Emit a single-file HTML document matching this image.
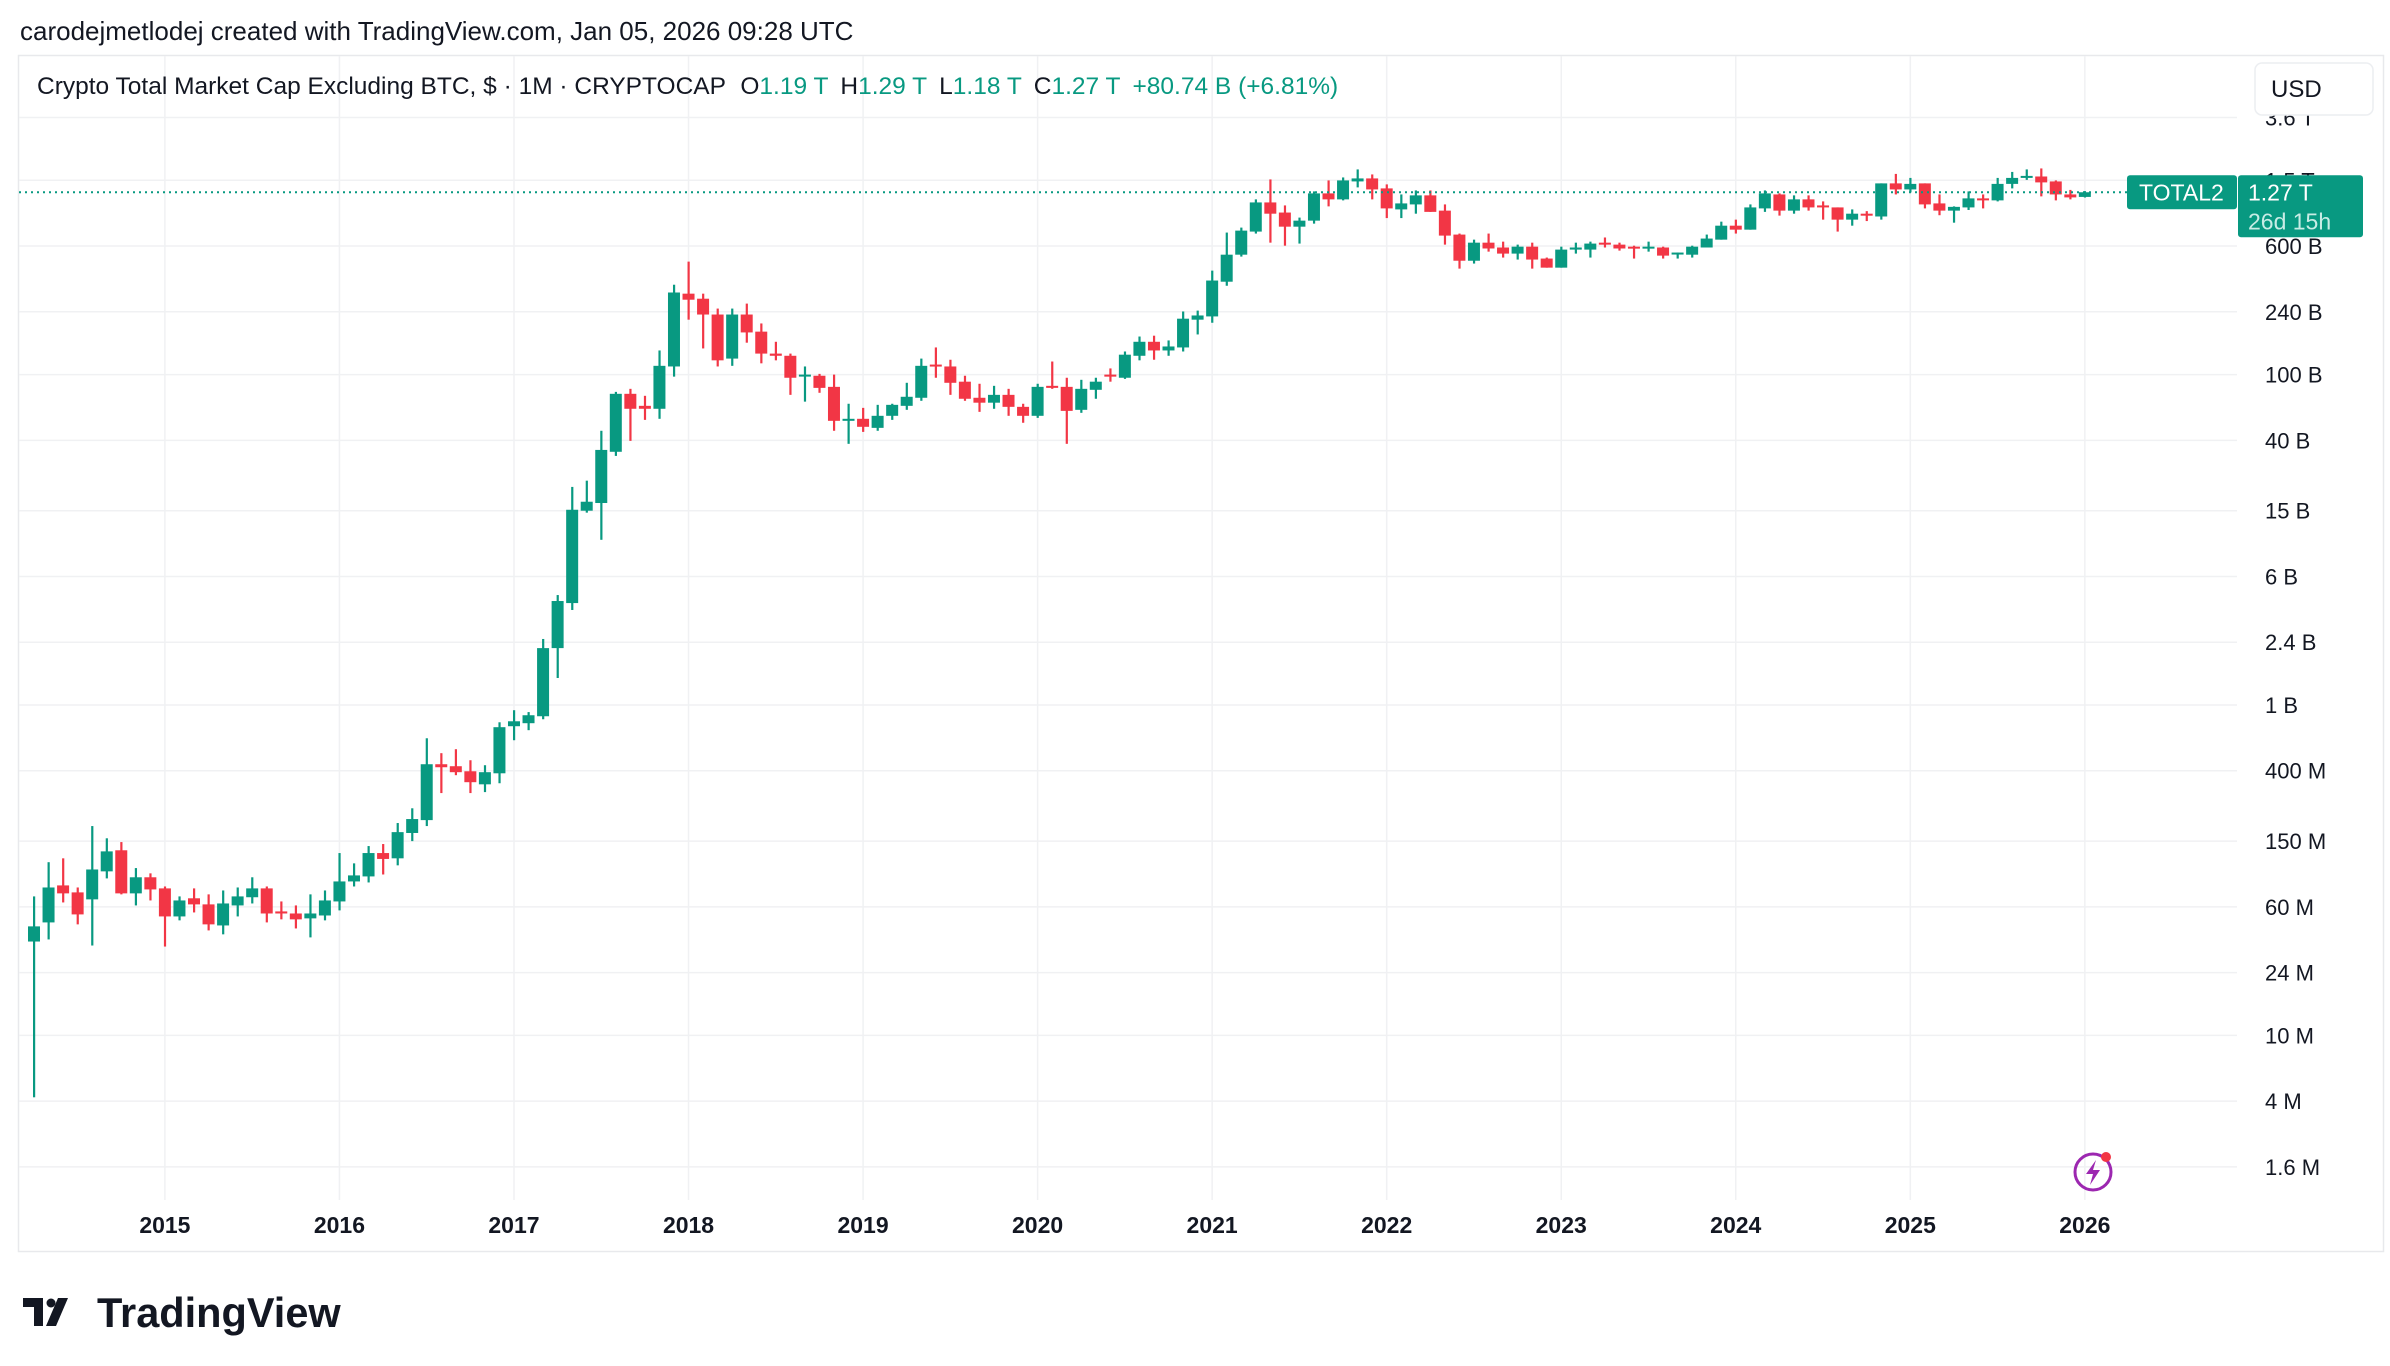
<!DOCTYPE html>
<html><head><meta charset="utf-8"><style>
html,body{margin:0;padding:0;background:#fff;}
svg{display:block;font-family:"Liberation Sans",sans-serif;}
</style></head><body>
<svg id="chart" width="2390" height="1366" viewBox="0 0 2390 1366" xmlns="http://www.w3.org/2000/svg">
<rect x="0" y="0" width="2390" height="1366" fill="#fff"/>
<text x="20" y="40" font-size="26" fill="#131722">carodejmetlodej created with TradingView.com, Jan 05, 2026 09:28 UTC</text>
<rect x="18.5" y="55.5" width="2365" height="1196" fill="#fff" stroke="#e8e9ec" stroke-width="1.5"/>
<g id="grid"></g>
<g id="candles"></g>
<g id="ylabels"></g>
<g id="xlabels"></g>
<text x="37" y="94" font-size="24.5" fill="#131722">Crypto Total Market Cap Excluding BTC, $ · 1M · CRYPTOCAP <tspan dx="8">O</tspan><tspan fill="#089981">1.19 T</tspan><tspan dx="12">H</tspan><tspan fill="#089981">1.29 T</tspan><tspan dx="12">L</tspan><tspan fill="#089981">1.18 T</tspan><tspan dx="12">C</tspan><tspan fill="#089981">1.27 T</tspan><tspan dx="12" fill="#089981">+80.74 B (+6.81%)</tspan></text>
<g>
<rect x="2255" y="63" width="118" height="52" rx="7" fill="#fff" stroke="#eceef1" stroke-width="1.5"/>
<text x="2271" y="97" font-size="24" fill="#131722">USD</text>
</g>
<g id="lastprice"></g>
<g>
<circle cx="2093" cy="1172" r="18" fill="none" stroke="#9c27b0" stroke-width="3"/>
<path d="M2096 1160 L2086 1174 L2093 1174 L2090 1185 L2100 1170 L2093 1170 Z" fill="#9c27b0"/>
<circle cx="2106" cy="1157" r="5" fill="#f23645"/>
</g>
<g>
<path d="M23 1298 h20 v28 h-9 v-19 h-11 z" fill="#131722"/>
<circle cx="51" cy="1303" r="4.5" fill="#131722"/>
<path d="M58 1298 h10 l-12 28 h-10 z" fill="#131722"/>
<text x="97" y="1327" font-size="41.5" font-weight="bold" fill="#131722">TradingView</text>
</g>
</svg>
<script>
const yearLabels = ["2015","2016","2017","2018","2019","2020","2021","2022","2023","2024","2025","2026"];
const tickValues = [0.0016,0.004,0.01,0.024,0.06,0.15,0.4,1,2.4,6,15,40,100,240,600,1500,3600];
const tickLabels = ["1.6 M","4 M","10 M","24 M","60 M","150 M","400 M","1 B","2.4 B","6 B","15 B","40 B","100 B","240 B","600 B","1.5 T","3.6 T"];
// monthly candles from Apr 2014, values in USD billions
const opens = [0.0370,0.0483,0.0809,0.0734,0.0666,0.0984,0.132,0.0724,0.0906,0.0776,
0.0525,0.0676,0.0621,0.0463,0.0612,0.0686,0.0776,0.0563,0.0547,0.0511,
0.0532,0.0647,0.0855,0.0917,0.127,0.118,0.168,0.201,0.438,0.426,
0.397,0.331,0.386,0.744,0.776,0.855,2.21,4.14,15.0,16.7,
34.1,76.5,64.7,62.1,112,309,288,231,125,231,
182,134,130,98.4,98.4,84.3,52.5,54.0,47.6,56.3,
64.7,72.4,115,112,90.6,72.4,67.6,75.4,63.8,56.3,
85.5,84.3,61.2,80.9,100,95.7,130,158,140,146,
215,225,365,532,734,1102,957,786,855,1250,
1150,1477,1540,1340,1000,1072,1216,983,704,489,
629,588,540,595,504,444,571,571,629,612,
595,588,588,540,532,588,656,797,754,1014,
1232,983,1150,1057,1028,867,942,906,1437,1321,
1437,1087,983,1028,1166,1134,1427,1561,1582,1477,
1232,1190];
const highs = [0.0694,0.1118,0.118,0.0786,0.185,0.156,0.148,0.103,0.0957,0.0797,
0.0694,0.0776,0.0714,0.0754,0.0786,0.0906,0.0797,0.0647,0.0612,0.0714,
0.0754,0.127,0.110,0.140,0.144,0.193,0.237,0.629,0.511,0.540,
0.463,0.432,0.786,0.930,0.906,2.51,4.63,20.9,22.8,45.7,
78.6,82.0,74.4,140,350,483,309,251,251,269,
204,158,134,112,101,100,66.6,62.9,65.6,66.6,
89.2,125,146,123,98.4,88.0,85.5,82.0,66.6,88.0,
120,95.7,93.0,95.7,109,138,170,172,161,241,
244,426,724,776,1150,1519,1057,892,1285,1498,
1561,1746,1628,1417,1232,1303,1303,1072,714,656,
714,638,612,629,511,595,629,638,676,629,
603,638,595,548,603,704,843,867,1072,1303,
1250,1216,1216,1118,1028,1000,976,1437,1640,1551,
1437,1232,1043,1285,1232,1551,1686,1746,1770,1498,
1312,1290];
const lows = [0.00422,0.0381,0.0638,0.047,0.035,0.0892,0.0714,0.0612,0.0656,0.0345,
0.0497,0.0555,0.0432,0.0409,0.0525,0.0629,0.0483,0.0504,0.0444,0.0392,
0.0497,0.0571,0.0797,0.0843,0.0942,0.107,0.150,0.185,0.293,0.376,
0.293,0.297,0.336,0.612,0.704,0.820,1.457,3.76,14.6,10.0,
32.2,39.7,53.2,54.0,97.2,215,144,112,113,156,
117,122,75.4,68.6,77.6,45.7,38.1,45.0,45.7,53.2,
61.2,69.4,95.7,75.4,69.4,59.5,62.1,56.3,51.1,54.7,
82.0,38.1,58.7,71.4,90.6,94.2,122,123,130,138,
175,206,345,518,714,629,603,621,820,1043,
1134,1359,1150,886,886,942,966,612,438,470,
555,511,497,438,444,444,540,511,588,563,
504,555,504,504,511,588,656,714,754,966,
917,942,983,867,734,797,850,867,1232,1267,
1014,922,831,992,1014,1118,1340,1509,1199,1134,
1150,1180];
const closes = [0.0457,0.0786,0.0724,0.054,0.101,0.130,0.0724,0.0906,0.0765,0.0525,
0.0656,0.0621,0.047,0.0629,0.0694,0.0776,0.0547,0.0547,0.0504,0.0547,
0.0656,0.0855,0.093,0.127,0.117,0.170,0.204,0.438,0.420,0.392,
0.341,0.392,0.734,0.797,0.867,2.21,4.26,15.2,17.0,35.0,
76.5,62.1,62.1,113,314,284,231,122,231,180,
134,130,95.7,100,83.1,52.5,54.0,48.3,56.3,65.6,
73.4,113,112,89.2,71.4,67.6,75.4,63.8,56.3,84.3,
83.1,60.3,82.0,90.6,97.2,132,158,140,148,218,
228,371,532,744,1102,942,786,855,1250,1150,
1498,1540,1321,1014,1087,1216,966,694,489,629,
580,540,595,497,444,571,588,621,612,580,
580,595,525,548,595,666,797,754,1028,1250,
983,1150,1028,1043,867,942,922,1437,1321,1427,
1072,983,1036,1166,1150,1427,1551,1595,1457,1232,
1182,1270];
const lastPriceLabel = "1.27 T";
const countdownLabel = "26d 15h";
const symbolLabel = "TOTAL2";

const NS = "http://www.w3.org/2000/svg";
const plotLeft = 19, plotRight = 2237, plotTop = 56, plotBottom = 1200;
const firstMonthX = 34, monthStep = 14.545; // Apr 2014 candle
function xScale(i){ return firstMonthX + i*monthStep; }
function yScale(v){ return 705 - 165.2*Math.log10(v); }
function mk(tag, attrs, parent){ const e=document.createElementNS(NS,tag); for(const k in attrs) e.setAttribute(k,attrs[k]); parent.appendChild(e); return e; }

const grid = document.getElementById('grid');
const ylab = document.getElementById('ylabels');
tickValues.forEach((v,i)=>{
  const y = yScale(v);
  const l = mk('line',{x1:plotLeft,x2:plotRight,y1:y,y2:y,stroke:'#f0f1f3','stroke-width':1.5},grid);
  
  
  const t = mk('text',{x:2265,y:y+8,'font-size':22,fill:'#131722'},ylab);
  t.textContent = tickLabels[i];
  
  
});
const xlab = document.getElementById('xlabels');
yearLabels.forEach((lab,i)=>{
  const x = xScale(9 + i*12);
  const l = mk('line',{x1:x,x2:x,y1:plotTop,y2:plotBottom,stroke:'#f0f1f3','stroke-width':1.5},grid);
  
  
  const t = mk('text',{x:x,y:1233,'font-size':23,'font-weight':'bold',fill:'#131722','text-anchor':'middle'},xlab);
  t.textContent = lab;
  
  
});

const cg = document.getElementById('candles');
for(let i=0;i<opens.length;i++){
  const up = closes[i] >= opens[i];
  const col = up ? '#089981' : '#f23645';
  const x = xScale(i);
  const g = mk('g',{},cg);
  
  
  mk('rect',{x:x-1,y:yScale(highs[i]),width:2.2,height:Math.max(1,yScale(lows[i])-yScale(highs[i])),fill:col},g);
  const top = yScale(Math.max(opens[i],closes[i]));
  const bot = yScale(Math.min(opens[i],closes[i]));
  mk('rect',{x:x-6,y:top,width:12,height:Math.max(2,bot-top),fill:col},g);
}

const lp = document.getElementById('lastprice');
const lastY = yScale(closes[closes.length-1]);
const pl = mk('line',{x1:plotLeft,x2:plotRight,y1:lastY,y2:lastY,stroke:'#089981','stroke-width':2,'stroke-dasharray':'2 4'},lp);


const sb = mk('g',{},lp);


mk('rect',{x:2127,y:lastY-17,width:110,height:34,rx:3,fill:'#089981'},sb);
const st = mk('text',{x:2139,y:lastY+8,'font-size':23,fill:'#fff'},sb);
st.textContent = symbolLabel;
const pb = mk('g',{},lp);


mk('rect',{x:2238,y:lastY-17,width:125,height:62,rx:3,fill:'#089981'},pb);
const pt = mk('text',{x:2248,y:lastY+8,'font-size':23,fill:'#fff'},pb);
pt.textContent = lastPriceLabel;
const ct = mk('text',{x:2248,y:lastY+37,'font-size':23,fill:'#c8ece5'},pb);
ct.textContent = countdownLabel;
</script>
</body></html>
